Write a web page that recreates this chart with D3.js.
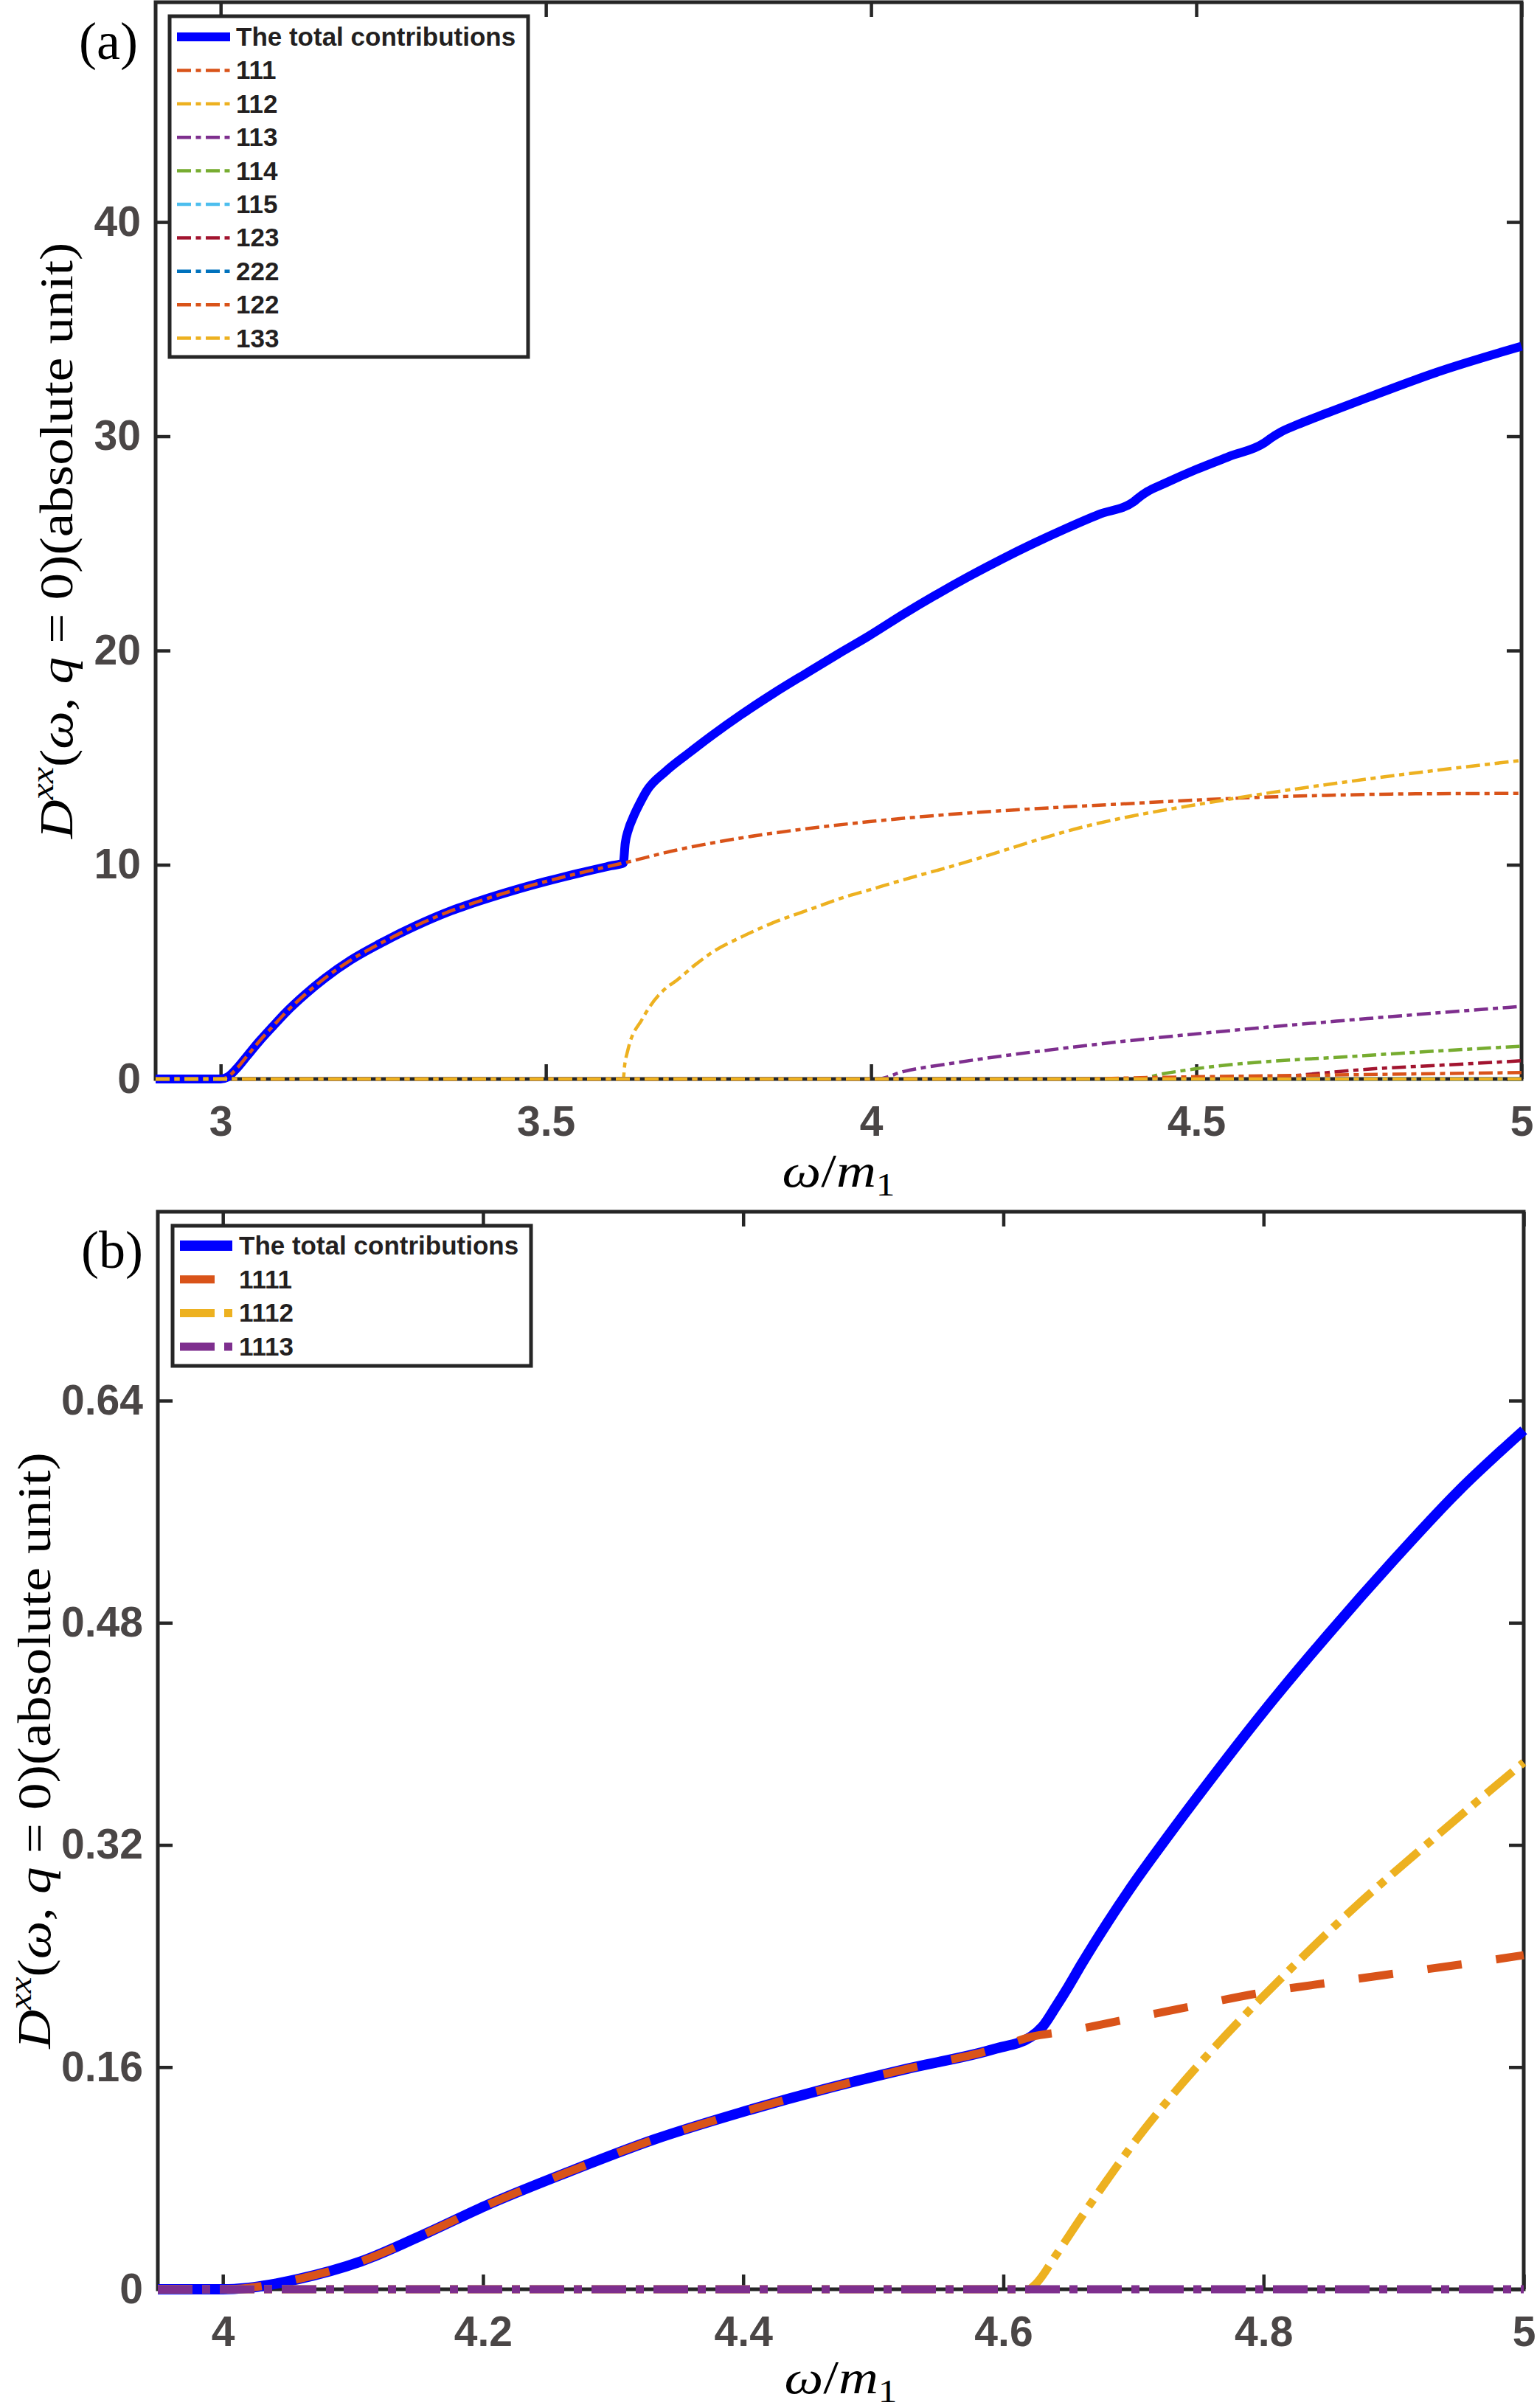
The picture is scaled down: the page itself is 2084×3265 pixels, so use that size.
<!DOCTYPE html>
<html>
<head>
<meta charset="utf-8">
<script src="https://cdnjs.cloudflare.com/ajax/libs/d3/7.8.5/d3.min.js"></script>
<style>
  body { margin: 0; background: #fff; }
</style>
</head>
<body>
<svg id="fig"></svg>
<script>
// ---- panel (a) data ----
const aTicksX = [3, 3.5, 4, 4.5, 5];
const aTickLabelsX = ["3", "3.5", "4", "4.5", "5"];
const aTicksY = [0, 10, 20, 30, 40];
const aTickLabelsY = ["0", "10", "20", "30", "40"];

const aTotalX = [2.9, 3.0, 3.01, 3.025, 3.04, 3.06, 3.08, 3.1, 3.13, 3.16, 3.2, 3.25, 3.3, 3.35, 3.4, 3.45, 3.5, 3.55, 3.6, 3.619,
    3.622, 3.627, 3.634, 3.645, 3.655, 3.684, 3.72, 3.756, 3.8, 3.85, 3.901, 3.95, 3.995,
    4.05, 4.1, 4.15, 4.2, 4.25, 4.3, 4.35, 4.404, 4.41, 4.425, 4.45, 4.5, 4.55, 4.605, 4.615, 4.63, 4.656, 4.7, 4.763, 4.869, 5.0];
const aTotalY = [0, 0, 0.08, 0.5, 1.05, 1.78, 2.45, 3.1, 3.95, 4.7, 5.55, 6.4, 7.15, 7.8, 8.33, 8.8, 9.22, 9.6, 9.95, 10.08,
    11.0, 11.65, 12.2, 12.9, 13.45, 14.35, 15.22, 16.05, 17.0, 18.0, 18.95, 19.85, 20.65,
    21.7, 22.6, 23.45, 24.25, 25.0, 25.7, 26.35, 26.95, 27.1, 27.42, 27.78, 28.45, 29.05, 29.7, 29.92, 30.2, 30.55, 31.07, 31.8, 32.98, 34.2];

const a111X = [2.9, 3.0, 3.01, 3.025, 3.04, 3.06, 3.08, 3.1, 3.13, 3.16, 3.2, 3.25, 3.3, 3.35, 3.4, 3.45, 3.5, 3.55, 3.6, 3.619,
    3.7, 3.8, 3.9, 4.0, 4.1, 4.2, 4.3, 4.4, 4.5, 4.6, 4.7, 4.8, 4.9, 5.0];
const a111Y = [0, 0, 0.08, 0.5, 1.05, 1.78, 2.45, 3.1, 3.95, 4.7, 5.55, 6.4, 7.15, 7.8, 8.33, 8.8, 9.22, 9.6, 9.95, 10.08,
    10.68, 11.25, 11.68, 12.02, 12.3, 12.52, 12.7, 12.86, 13.02, 13.15, 13.24, 13.3, 13.32, 13.33];

const a112X = [2.9, 3.619, 3.621, 3.626, 3.648, 3.684, 3.7, 3.73, 3.756, 3.8, 3.85, 3.909, 3.95, 4.0, 4.05, 4.122, 4.336, 4.549, 4.763, 5.0];
const a112Y = [0, 0, 0.6, 1.34, 2.79, 4.23, 4.58, 5.34, 5.92, 6.62, 7.3, 7.95, 8.4, 8.85, 9.3, 9.91, 11.84, 13.05, 14.0, 14.87];

const a113X = [2.9, 4.009, 4.05, 4.122, 4.336, 4.549, 4.763, 5.0];
const a113Y = [0, 0, 0.35, 0.72, 1.58, 2.25, 2.82, 3.39];

const a114X = [2.9, 4.407, 4.45, 4.5, 4.763, 5.0];
const a114Y = [0, 0, 0.25, 0.48, 1.1, 1.53];

const a115X = [2.9, 5.0];
const a115Y = [0, 0];

const a123X = [2.9, 4.6, 4.65, 4.76, 4.88, 5.0];
const a123Y = [0, 0, 0.15, 0.45, 0.65, 0.85];

const a222X = [2.9, 5.0];
const a222Y = [0, 0];

const a122X = [2.9, 4.3, 4.45, 4.67, 5.0];
const a122Y = [0, 0, 0.08, 0.17, 0.3];

const a133X = [2.9, 5.0];
const a133Y = [0, 0];

// ---- panel (b) data ----
const bTicksX = [4, 4.2, 4.4, 4.6, 4.8, 5];
const bTickLabelsX = ["4", "4.2", "4.4", "4.6", "4.8", "5"];
const bTicksY = [0, 0.16, 0.32, 0.48, 0.64];
const bTickLabelsY = ["0", "0.16", "0.32", "0.48", "0.64"];

const bTotalX = [3.95, 4.0, 4.019, 4.058, 4.106, 4.158, 4.2016, 4.267, 4.332, 4.397, 4.462, 4.527, 4.593, 4.621,
    4.63, 4.64, 4.65, 4.66, 4.68, 4.7, 4.72, 4.76, 4.8, 4.85, 4.9, 4.95, 5.0];
const bTotalY = [0, 0, 0.001, 0.0074, 0.020, 0.041, 0.060, 0.085, 0.108, 0.127, 0.144, 0.159, 0.173, 0.1817,
    0.189, 0.203, 0.218, 0.234, 0.264, 0.292, 0.318, 0.368, 0.416, 0.472, 0.525, 0.575, 0.6186];

const b1111X = [3.95, 4.0, 4.019, 4.058, 4.106, 4.158, 4.2016, 4.267, 4.332, 4.397, 4.462, 4.527, 4.593, 4.621, 4.650, 4.690, 4.744, 4.798, 4.852, 4.906, 4.96, 5.0];
const b1111Y = [0, 0, 0.001, 0.0074, 0.020, 0.041, 0.060, 0.085, 0.108, 0.127, 0.144, 0.159, 0.173, 0.1817, 0.186, 0.1935, 0.2036, 0.2135, 0.221, 0.228, 0.235, 0.2406];

const b1112X = [3.95, 4.619, 4.625, 4.64, 4.66, 4.68, 4.7, 4.73, 4.77, 4.82, 4.87, 4.92, 4.96, 5.0];
const b1112Y = [0, 0, 0.004, 0.024, 0.052, 0.079, 0.105, 0.14, 0.182, 0.23, 0.275, 0.316, 0.348, 0.3794];

const b1113X = [3.95, 5.0];
const b1113Y = [0, 0];

// ---- styles ----
const W = 2084, H = 3265;
const axisColor = "#262626";
const tickColor = "#4a4646";
const sansFont = "'Liberation Sans', Arial, Helvetica, sans-serif";
const serifFont = "'Liberation Serif', 'Times New Roman', serif";
const thinDashDot = "19,6.5,7,6.5";
const thickDash = "47,47";
const thickDashDot = "47,13,11,13";

const svg = d3.select("#fig")
    .attr("width", W)
    .attr("height", H)
    .attr("viewBox", `0 0 ${W} ${H}`);

svg.append("rect").attr("width", W).attr("height", H).attr("fill", "#fff");

const zip = (xs, ys) => xs.map((x, i) => ({x: x, y: ys[i]}));

const panelA = {
    tag: "(a)", tagX: 147, tagY: 80,
    left: 211, right: 2063, top: 3, bottom: 1463,
    xDomain: [2.9, 5], yDomain: [0, 50.26],
    xTicks: aTicksX, xLabels: aTickLabelsX,
    yTicks: aTicksY, yLabels: aTickLabelsY,
    yLabelX: 98, xLabelY: 1609,
    legend: {x: 230, y: 22, w: 486, h: 462, sx0: 240, sx1: 312, tx: 320, row0: 50, rowStep: 45.4},
    series: [
        {name: "The total contributions", data: zip(aTotalX, aTotalY), color: "#0000FF", width: 12, dash: null},
        {name: "111", data: zip(a111X, a111Y), color: "#D95319", width: 4.5, dash: thinDashDot},
        {name: "112", data: zip(a112X, a112Y), color: "#EDB120", width: 4.5, dash: thinDashDot},
        {name: "113", data: zip(a113X, a113Y), color: "#7E2F8E", width: 4.5, dash: thinDashDot},
        {name: "114", data: zip(a114X, a114Y), color: "#77AC30", width: 4.5, dash: thinDashDot},
        {name: "115", data: zip(a115X, a115Y), color: "#4DBEEE", width: 4.5, dash: thinDashDot},
        {name: "123", data: zip(a123X, a123Y), color: "#A2142F", width: 4.5, dash: thinDashDot},
        {name: "222", data: zip(a222X, a222Y), color: "#0072BD", width: 4.5, dash: thinDashDot},
        {name: "122", data: zip(a122X, a122Y), color: "#D95319", width: 4.5, dash: thinDashDot},
        {name: "133", data: zip(a133X, a133Y), color: "#EDB120", width: 4.5, dash: thinDashDot}
    ]
};

const panelB = {
    tag: "(b)", tagX: 152, tagY: 1719,
    left: 214, right: 2066, top: 1643, bottom: 3104,
    xDomain: [3.95, 5], yDomain: [0, 0.776],
    xTicks: bTicksX, xLabels: bTickLabelsX,
    yTicks: bTicksY, yLabels: bTickLabelsY,
    yLabelX: 68, xLabelY: 3245,
    legend: {x: 234, y: 1662, w: 486, h: 190, sx0: 244, sx1: 315, tx: 324, row0: 1689, rowStep: 45.7},
    series: [
        {name: "The total contributions", data: zip(bTotalX, bTotalY), color: "#0000FF", width: 14, dash: null},
        {name: "1111", data: zip(b1111X, b1111Y), color: "#D95319", width: 11, dash: thickDash},
        {name: "1112", data: zip(b1112X, b1112Y), color: "#EDB120", width: 11, dash: thickDashDot},
        {name: "1113", data: zip(b1113X, b1113Y), color: "#7E2F8E", width: 11, dash: thickDashDot}
    ]
};

function styleAxis(sel) {
    sel.attr("font-family", sansFont).attr("font-size", 57).attr("font-weight", "bold");
    sel.select(".domain").remove();
    sel.selectAll(".tick line").attr("stroke", axisColor).attr("stroke-width", 4.5);
    sel.selectAll(".tick text").attr("fill", tickColor);
}

function drawPanel(p) {
    const g = svg.append("g");
    const x = d3.scaleLinear().domain(p.xDomain).range([p.left, p.right]);
    const y = d3.scaleLinear().domain(p.yDomain).range([p.bottom, p.top]);

    // axes (ticks inside, box all round)
    g.append("g").attr("transform", `translate(0,${p.bottom})`)
        .call(d3.axisBottom(x).tickValues(p.xTicks).tickFormat((d, i) => p.xLabels[i])
            .tickSizeInner(-20).tickSizeOuter(0).tickPadding(37))
        .call(styleAxis);
    g.append("g").attr("transform", `translate(0,${p.top})`)
        .call(d3.axisTop(x).tickValues(p.xTicks).tickFormat("")
            .tickSizeInner(-20).tickSizeOuter(0))
        .call(styleAxis);
    g.append("g").attr("transform", `translate(${p.left},0)`)
        .call(d3.axisLeft(y).tickValues(p.yTicks).tickFormat((d, i) => p.yLabels[i])
            .tickSizeInner(-20).tickSizeOuter(0).tickPadding(20))
        .call(styleAxis);
    g.append("g").attr("transform", `translate(${p.right},0)`)
        .call(d3.axisRight(y).tickValues(p.yTicks).tickFormat("")
            .tickSizeInner(-20).tickSizeOuter(0))
        .call(styleAxis);

    g.append("rect")
        .attr("x", p.left).attr("y", p.top)
        .attr("width", p.right - p.left).attr("height", p.bottom - p.top)
        .attr("fill", "none").attr("stroke", axisColor).attr("stroke-width", 5);

    // data lines
    const line = d3.line().x(d => x(d.x)).y(d => y(d.y)).curve(d3.curveMonotoneX);
    g.append("g").selectAll("path")
        .data(p.series)
        .enter().append("path")
        .attr("d", d => line(d.data))
        .attr("fill", "none")
        .attr("stroke", d => d.color)
        .attr("stroke-width", d => d.width)
        .attr("stroke-dasharray", d => d.dash)
        .attr("stroke-linejoin", "round");

    // legend
    const L = p.legend;
    const lg = g.append("g");
    lg.append("rect")
        .attr("x", L.x).attr("y", L.y).attr("width", L.w).attr("height", L.h)
        .attr("fill", "#fff").attr("stroke", axisColor).attr("stroke-width", 5);
    const row = lg.selectAll("g.row")
        .data(p.series)
        .enter().append("g")
        .attr("class", "row")
        .attr("transform", (d, i) => `translate(0,${L.row0 + i * L.rowStep})`);
    row.append("line")
        .attr("x1", L.sx0).attr("x2", L.sx1)
        .attr("stroke", d => d.color)
        .attr("stroke-width", d => d.width)
        .attr("stroke-dasharray", d => d.dash);
    row.append("text")
        .attr("x", L.tx).attr("y", 12)
        .attr("font-family", sansFont).attr("font-size", 35).attr("font-weight", "bold")
        .attr("fill", "#231f20")
        .text(d => d.name);

    // panel tag
    g.append("text")
        .attr("x", p.tagX).attr("y", p.tagY)
        .attr("text-anchor", "middle")
        .attr("font-family", serifFont).attr("font-size", 72)
        .text(p.tag);

    // x label: omega / m_1
    const xl = g.append("g").attr("transform", `translate(${(p.left + p.right) / 2},${p.xLabelY})`);
    const xlt = xl.append("text")
        .attr("text-anchor", "middle")
        .attr("font-family", serifFont).attr("font-size", 64);
    xlt.append("tspan").attr("font-style", "italic").text("ω");
    xlt.append("tspan").text("/");
    xlt.append("tspan").attr("font-style", "italic").text("m");
    xlt.append("tspan").attr("font-size", 44).attr("dy", 12).text("1");
    const xw = xlt.node().getBBox().width;
    xlt.attr("transform", `scale(${153 / xw},1)`);

    // y label
    const yl = g.append("g")
        .attr("transform", `translate(${p.yLabelX},${(p.top + p.bottom) / 2}) rotate(-90)`);
    const ylt = yl.append("text")
        .attr("text-anchor", "middle")
        .attr("font-family", serifFont).attr("font-size", 64);
    ylt.append("tspan").attr("font-style", "italic").text("D");
    ylt.append("tspan").attr("font-style", "italic").attr("font-size", 44).attr("dy", -26).text("xx");
    ylt.append("tspan").attr("dy", 26).text("(");
    ylt.append("tspan").attr("font-style", "italic").text("ω");
    ylt.append("tspan").text(", ");
    ylt.append("tspan").attr("font-style", "italic").text("q");
    ylt.append("tspan").text(" = 0)(absolute unit)");
    const yw = ylt.node().getBBox().width;
    ylt.attr("transform", `scale(${810 / yw},1)`);
}

drawPanel(panelA);
drawPanel(panelB);
</script>
</body>
</html>
